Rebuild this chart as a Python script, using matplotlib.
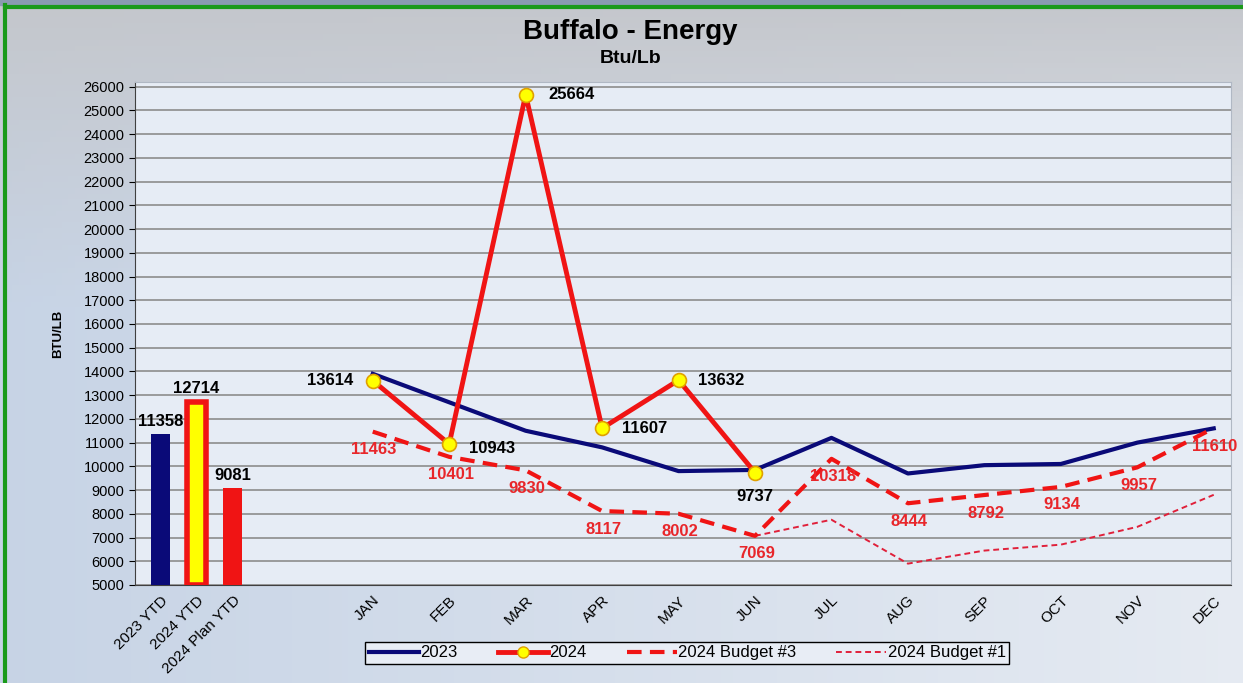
import matplotlib.pyplot as plt
from matplotlib.patches import Rectangle
from matplotlib.lines import Line2D
import numpy as np

plt.rcParams['font.family'] = ['Liberation Sans', 'DejaVu Sans']

# data
ytd_labels = ['2023 YTD', '2024 YTD', '2024 Plan YTD']
ytd_values = [11358, 12714, 9081]
months = ['JAN', 'FEB', 'MAR', 'APR', 'MAY', 'JUN', 'JUL', 'AUG', 'SEP', 'OCT', 'NOV', 'DEC']
actual_2023 = [13900, 12700, 11500, 10800, 9800, 9850, 11200, 9700, 10050, 10100, 11000, 11600]
actual_2024 = [13614, 10943, 25664, 11607, 13632, 9737]
budget_3 = [11463, 10401, 9830, 8117, 8002, 7069, 10318, 8444, 8792, 9134, 9957, 11610]
budget_1 = [None, None, None, None, None, 7069, 7750, 5900, 6450, 6700, 7450, 8800]

navy = '#0a0a78'
red = '#f01414'
label_red = '#e8262a'

fig = plt.figure(figsize=(12.43, 6.83), dpi=100)

# background gradient + green frame
bg = fig.add_axes([0, 0, 1, 1], zorder=-10)
gx = np.linspace(0, 1, 200)
gy = np.linspace(0, 1, 120)
GX, GY = np.meshgrid(gx, gy)
c_left = np.array([0.78, 0.83, 0.90])
c_right = np.array([0.90, 0.92, 0.95])
c_top = np.array([0.77, 0.78, 0.80])
img = (c_left[None, None, :] * (1 - GX[..., None]) + c_right[None, None, :] * GX[..., None])
w = np.clip((GY[..., None] - 0.55) / 0.45, 0, 1)
img = img * (1 - w) + c_top[None, None, :] * w
bg.imshow(img, extent=[0, 1, 0, 1], aspect='auto', origin='lower')
bg.set_xlim(0, 1)
bg.set_ylim(0, 1)
bg.axis('off')
fig.add_artist(Rectangle((0, 0.992), 1, 0.008, transform=fig.transFigure, color='#8a9bb0', zorder=-5))
fig.add_artist(Line2D([0.004, 0.004], [0, 0.992], transform=fig.transFigure, color='#1a9a1a', lw=3))
fig.add_artist(Line2D([0.004, 1], [0.99, 0.99], transform=fig.transFigure, color='#1a9a1a', lw=3))

ax = fig.add_axes([0.1086, 0.1435, 0.882, 0.7365])
ax.set_facecolor('#e6ecf5')

x_months = np.arange(len(months))
x_bars = -2.78 + 0.475 * np.arange(len(ytd_labels))

ax.bar(x_bars[0], ytd_values[0] - 5000, bottom=5000, width=0.25, color=navy, zorder=3)
ax.bar(x_bars[1], ytd_values[1] - 5000, bottom=5000, width=0.25, color='#ffff00', edgecolor=red, linewidth=4, zorder=3)
ax.bar(x_bars[2], ytd_values[2] - 5000, bottom=5000, width=0.25, color=red, zorder=3)
for x, v in zip(x_bars, ytd_values):
    ax.annotate(str(v), (x, v), xytext=(0, 4), textcoords='offset points', ha='center', va='bottom',
                fontsize=12, fontweight='bold', color='black', zorder=6)

ax.plot(x_months, actual_2023, color=navy, lw=3, zorder=4)
b1 = np.array([np.nan if v is None else v for v in budget_1], dtype=float)
ax.plot(x_months, b1, color='#e0203a', lw=1.4, ls=(0, (3, 2)), zorder=3)
ax.plot(x_months, budget_3, color=red, lw=3, ls=(0, (3.5, 2)), zorder=4)
ax.plot(x_months[:len(actual_2024)], actual_2024, color=red, lw=3.5, marker='o', markersize=10,
        markerfacecolor='#ffff00', markeredgecolor='#e0a000', markeredgewidth=1.2, zorder=5)

# 2024 labels
offsets_2024 = [(-14, 0, 'right', 'center'), (14, -3, 'left', 'center'), (16, 0, 'left', 'center'),
                (14, 0, 'left', 'center'), (14, 0, 'left', 'center'), (0, -17, 'center', 'center')]
for x, v, (dx, dy, ha, va) in zip(x_months, actual_2024, offsets_2024):
    ax.annotate(str(v), (x, v), xytext=(dx, dy), textcoords='offset points', ha=ha, va=va,
                fontsize=12, fontweight='bold', color='black', zorder=6)

for x, v in zip(x_months, budget_3):
    ax.annotate(str(v), (x, v), xytext=(1, -13), textcoords='offset points', ha='center', va='center',
                fontsize=12, fontweight='bold', color=label_red, zorder=6)

ax.set_xlim(-3.11, 11.23)
ax.set_ylim(5000, 26200)
ax.set_yticks(range(5000, 26001, 1000))
ax.tick_params(axis='y', labelsize=10.5, length=4)
ax.set_xticks(list(x_bars) + list(x_months))
ax.set_xticklabels(ytd_labels + months, rotation=45, ha='right', rotation_mode='anchor', fontsize=11)
ax.tick_params(axis='x', length=0, pad=6)
ax.yaxis.grid(True, color='#8c8c8c', lw=1.2)
ax.set_axisbelow(True)
for side in ['top', 'right']:
    ax.spines[side].set_color('#b0b8c4')
ax.spines['left'].set_color('#404040')
ax.spines['bottom'].set_color('#404040')
ax.set_ylabel('BTU/LB', fontsize=9.5, fontweight='bold', labelpad=14)

fig.text(0.507, 0.953, 'Buffalo - Energy', ha='center', va='center', fontsize=20, fontweight='bold')
fig.text(0.507, 0.915, 'Btu/Lb', ha='center', va='center', fontsize=14, fontweight='bold')

handles = [
    Line2D([], [], color=navy, lw=3),
    Line2D([], [], color=red, lw=3.5, marker='o', markersize=8, markerfacecolor='#ffff00', markeredgecolor='#e0a000'),
    Line2D([], [], color=red, lw=3, ls=(0, (3.5, 2))),
    Line2D([], [], color='#e0203a', lw=1.4, ls=(0, (3, 2))),
]
leg = fig.legend(handles, ['2023', '2024', '2024 Budget #3', '2024 Budget #1'], ncol=4,
                 loc='center', bbox_to_anchor=(0.553, 0.044), fontsize=12, frameon=True,
                 fancybox=False, edgecolor='black', facecolor='#e8edf5', framealpha=1,
                 handlelength=3, columnspacing=2.4, borderpad=0.2, handletextpad=0.1,
                 borderaxespad=0)

plt.savefig('out.png', dpi=100)
plt.close()
